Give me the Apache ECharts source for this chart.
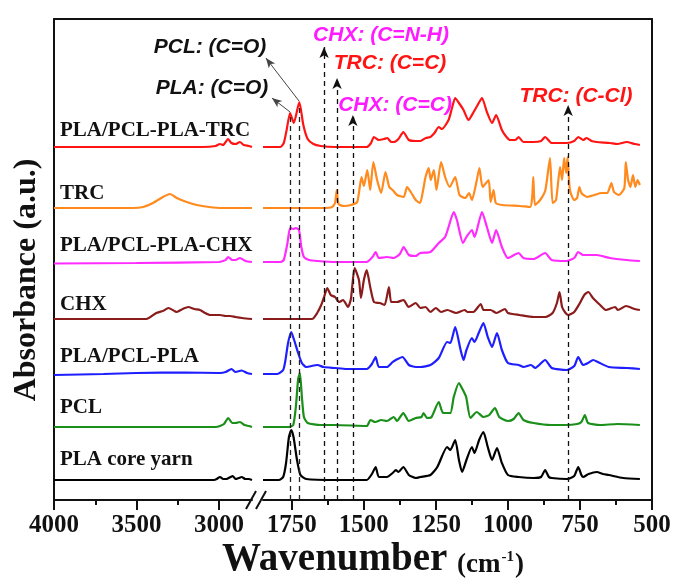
<!DOCTYPE html>
<html><head><meta charset="utf-8">
<script src="https://cdn.jsdelivr.net/npm/echarts@6/dist/echarts.min.js"></script>
<style>html,body{margin:0;padding:0;background:#fff}#c{width:674px;height:584px}</style>
</head><body><div id="c"></div>
<script>
// ---------------- DATA ----------------
const seriesNames = ['PLA/PCL-PLA-TRC', 'TRC', 'PLA/PCL-PLA-CHX', 'CHX', 'PLA/PCL-PLA', 'PCL', 'PLA core yarn'];
// vertical stacking offsets (arbitrary absorbance units)
const offsets = [353, 292, 238, 181, 126, 73, 20];

// left segment (4000-2800 cm-1): [wavenumber, relative absorbance]
const trcCompLeft = [[4000,0],[3100,0],[3020,1],[2995,3],[2975,2],[2945,8],[2925,4],[2900,3],[2873,5],[2850,2],[2820,1],[2800,0]];
const trcLeft = [[4000,0],[3520,0],[3460,1],[3400,5],[3340,11],[3297,14],[3256,10],[3196,6],[3135,3],[3060,1],[2980,0],[2800,0]];
const chxCompLeft = [[4000,-1.5],[3500,-1],[3000,0],[2975,1],[2960,2],[2944,5],[2920,2],[2900,2],[2873,4],[2840,1],[2800,0]];
const chxLeft = [[4000,0],[3440,0],[3380,6],[3340,8],[3307,11],[3270,8],[3256,7],[3220,10],[3186,12],[3150,10],[3115,9],[3085,6],[3055,4],[2994,4],[2960,3],[2933,3],[2900,2],[2860,1],[2800,0]];
const plaPclLeft = [[4000,-1],[3700,0],[3500,1],[3200,1.5],[3000,1],[2994,1],[2960,2],[2924,5],[2900,2],[2863,3.5],[2830,1],[2800,0]];
const pclLeft = [[4000,0],[3020,0],[2994,1],[2970,3],[2944,9],[2920,4],[2900,4],[2873,5],[2845,2],[2820,1],[2800,0]];
const plaLeft = [[4000,0],[3030,0],[3014,1],[2994,3],[2975,1],[2955,1],[2930,3],[2917,4],[2900,1],[2880,2],[2863,3],[2840,1],[2820,1],[2800,0]];

// right segment (1850-540 cm-1)
const trcCompRight = [[1850,0],[1790,0],[1778,4],[1768,17],[1756,34],[1743,24],[1724,45],[1710,22],[1695,8],[1675,3],[1650,1],[1600,0],[1490,0],[1475,4],[1465,10],[1448,7],[1430,8],[1419,9],[1405,5],[1396,5],[1380,8],[1363,15],[1344,7],[1320,6],[1304,6],[1285,9],[1269,10],[1255,14],[1240,20],[1229,18],[1206,27],[1195,38],[1183,49],[1170,44],[1154,37],[1137,27],[1119,35],[1105,42],[1090,49],[1073,35],[1055,24],[1041,32],[1021,17],[1005,10],[992,7],[975,7],[963,10],[946,5],[911,5],[885,6],[871,10],[848,4],[796,4],[770,6],[756,10],[739,7],[727,9],[710,6],[692,5],[646,4],[620,3],[588,5],[560,3],[542,2]];
const trcRight = [[1850,0],[1640,0],[1610,1],[1600,5],[1594,18],[1588,4],[1570,2],[1545,3],[1523,6],[1508,31],[1500,22],[1488,38],[1478,18],[1467,46],[1454,28],[1440,15],[1425,36],[1412,21],[1400,18],[1385,13],[1362,11],[1350,21],[1335,15],[1320,8],[1305,5],[1293,20],[1286,31],[1275,40],[1268,28],[1257,38],[1248,18],[1232,46],[1218,31],[1202,21],[1183,31],[1168,13],[1148,10],[1135,15],[1125,8],[1108,28],[1099,40],[1088,21],[1067,28],[1060,6],[1050,18],[1042,5],[1020,3],[958,2],[923,1],[916,10],[912,31],[906,3],[888,8],[870,18],[854,50],[845,5],[833,8],[819,41],[812,28],[805,50],[798,35],[793,51],[785,18],[770,8],[760,10],[752,21],[745,15],[725,11],[700,13],[675,15],[655,15],[641,25],[632,16],[615,13],[596,20],[591,46],[583,28],[575,21],[566,33],[558,21],[550,28],[542,23]];
const chxCompRight = [[1850,0],[1790,0],[1778,2],[1765,19],[1756,34],[1745,33],[1736,34],[1725,32],[1717,15],[1708,5],[1690,2],[1660,1],[1600,0],[1490,0],[1470,5],[1459,10],[1448,4],[1420,5],[1396,4],[1375,8],[1362,15],[1344,7],[1320,6],[1304,9],[1269,10],[1240,19],[1218,25],[1206,35],[1188,50],[1177,42],[1156,19],[1144,25],[1125,32],[1116,25],[1090,50],[1073,35],[1055,19],[1041,32],[1021,15],[1000,4],[963,9],[946,4],[911,3],[871,9],[848,2],[796,1],[770,4],[756,10],[739,7],[692,7],[646,4],[588,2],[542,1]];
const chxRight = [[1850,0],[1680,0],[1662,6],[1648,14],[1638,22],[1627,31],[1615,24],[1600,22],[1586,17],[1572,19],[1555,12],[1545,20],[1532,51],[1517,39],[1510,21],[1500,39],[1490,49],[1478,32],[1465,17],[1445,16],[1428,14],[1413,32],[1405,17],[1385,17],[1362,19],[1345,12],[1320,16],[1304,11],[1286,12],[1269,7],[1250,11],[1232,7],[1210,9],[1180,6],[1150,9],[1140,7],[1120,7],[1094,15],[1085,9],[1060,9],[1040,6],[1010,10],[1000,6],[960,4],[910,2],[870,2],[845,6],[830,16],[821,27],[812,12],[800,6],[790,4],[770,7],[750,16],[735,24],[721,27],[705,21],[680,14],[660,9],[628,12],[618,9],[590,13],[560,10],[542,9]];
const plaPclRight = [[1850,0],[1800,0],[1780,4],[1772,14],[1763,31],[1752,42],[1742,34],[1728,21],[1715,11],[1700,7],[1661,9],[1640,7],[1600,6],[1560,5],[1490,5],[1472,10],[1459,17],[1448,7],[1420,7],[1400,12],[1389,14],[1366,17],[1344,9],[1320,7],[1304,7],[1269,9],[1240,16],[1211,32],[1200,31],[1183,47],[1165,25],[1154,14],[1144,24],[1125,36],[1116,32],[1100,42],[1085,51],[1070,37],[1055,27],[1038,41],[1021,24],[1000,11],[963,9],[946,7],[920,9],[905,6],[871,14],[848,6],[796,4],[770,8],[756,17],[739,9],[722,11],[704,14],[688,12],[650,7],[588,6],[542,5]];
const pclRight = [[1850,0],[1760,0],[1745,2],[1736,20],[1728,48],[1722,54],[1715,30],[1708,10],[1695,4],[1650,2],[1600,2],[1490,1],[1477,7],[1460,5],[1440,7],[1420,6],[1396,10],[1385,6],[1363,14],[1344,6],[1320,9],[1300,10],[1293,14],[1280,9],[1265,10],[1240,25],[1225,14],[1200,14],[1188,30],[1170,44],[1158,38],[1145,30],[1130,9],[1108,15],[1085,10],[1065,12],[1045,19],[1030,10],[1000,6],[980,8],[963,14],[946,7],[911,4],[850,2],[800,2],[760,3],[745,5],[733,12],[722,4],[680,2],[620,3],[542,2]];
const plaRight = [[1850,0],[1795,0],[1780,3],[1770,17],[1760,43],[1752,50],[1744,43],[1732,20],[1720,5],[1700,1],[1600,0],[1490,0],[1472,6],[1459,13],[1448,3],[1420,3],[1400,7],[1389,10],[1380,8],[1363,13],[1344,5],[1320,2],[1304,3],[1269,5],[1245,13],[1211,33],[1200,30],[1183,40],[1170,20],[1159,8],[1144,20],[1125,33],[1116,27],[1100,40],[1085,48],[1070,33],[1055,20],[1038,32],[1021,17],[1000,5],[963,3],[911,2],[885,3],[871,10],[858,3],[848,2],[796,1],[770,4],[756,13],[745,5],[739,3],[720,6],[692,8],[670,6],[650,5],[600,2],[542,1]];

const leftSpectra = [trcCompLeft, trcLeft, chxCompLeft, chxLeft, plaPclLeft, pclLeft, plaLeft];
const rightSpectra = [trcCompRight, trcRight, chxCompRight, chxRight, plaPclRight, pclRight, plaRight];

// tick labels
const leftMajorTicks = [4000, 3500, 3000];
const leftMinorTicks = [3750, 3250];
const rightMajorTicks = [1750, 1500, 1250, 1000, 750, 500];
const rightMinorTicks = [1625, 1375, 1125, 875, 625];

// annotated bands
const carbonylPeaks = [1756, 1724];      // PLA, PCL C=O
const carbonylTops = [383, 394];
const arrowPeaks = [1638, 1593, 1538, 791]; // CHX C=N-H, TRC C=C, CHX C=C, TRC C-Cl
const arrowTops = [453, 422, 385, 395];
// leader arrows from peaks to labels: [fromW, fromA, toW, toA]
const leaderArrows = [[1725, 399, 1840, 442], [1756, 388, 1819, 402]];

const colors = ['#ff1414', '#ff8a1e', '#ff2bff', '#8b1c1c', '#1e1eff', '#1a8f1a', '#000000'];

// ---------------- CHART ----------------
const chart = echarts.init(document.getElementById('c'), null, {renderer: 'canvas'});
const serif = '"Liberation Serif","Times New Roman",serif';
const sans = '"Liberation Sans",Arial,sans-serif';
const axisCol = '#111';

function bottomAxis(grid, min, max, ticks, len, labels) {
  return {
    type: 'value', gridIndex: grid, position: 'bottom', min: min, max: max, inverse: true,
    axisLine: {show: labels, onZero: false, lineStyle: {color: axisCol, width: 2}},
    axisTick: {show: true, customValues: ticks, length: len, lineStyle: {color: axisCol, width: 2}},
    axisLabel: labels ? {show: true, customValues: ticks, formatter: v => String(v), fontFamily: serif, fontWeight: 'bold', fontSize: 25, color: axisCol, margin: 13} : {show: false},
    splitLine: {show: false}
  };
}

const series = [];
for (let i = 0; i < seriesNames.length; i++) {
  const off = offsets[i];
  series.push({
    name: seriesNames[i] + ' (high)', type: 'line', xAxisIndex: 0, yAxisIndex: 0,
    data: leftSpectra[i].map(p => [p[0], p[1] + off]),
    showSymbol: false, smooth: 0.2, silent: true,
    lineStyle: {color: colors[i], width: 2.2}, z: 3
  });
  series.push({
    name: seriesNames[i], type: 'line', xAxisIndex: 2, yAxisIndex: 1,
    data: rightSpectra[i].map(p => [p[0], p[1] + off]),
    showSymbol: false, smooth: 0.2, silent: true,
    lineStyle: {color: colors[i], width: 2.2}, z: 3
  });
}
// dashed reference lines (no arrow)
series.push({
  type: 'line', xAxisIndex: 2, yAxisIndex: 1, data: [], silent: true,
  markLine: {
    silent: true, animation: false, symbol: ['none', 'none'], label: {show: false},
    lineStyle: {type: [5, 4], color: '#222', width: 1.3},
    data: carbonylPeaks.map((w, k) => [{coord: [w, 0]}, {coord: [w, carbonylTops[k]]}])
  }
});
// dashed arrows
series.push({
  type: 'line', xAxisIndex: 2, yAxisIndex: 1, data: [], silent: true,
  markLine: {
    silent: true, animation: false, symbol: ['none', 'arrow'], symbolSize: [7, 11], label: {show: false},
    lineStyle: {type: [5, 4], color: '#111', width: 1.3},
    data: arrowPeaks.map((w, k) => [{coord: [w, 0]}, {coord: [w, arrowTops[k]]}])
  }
});
// leader arrows
series.push({
  type: 'line', xAxisIndex: 2, yAxisIndex: 1, data: [], silent: true,
  markLine: {
    silent: true, animation: false, symbol: ['none', 'arrow'], symbolSize: [6, 10], label: {show: false},
    lineStyle: {type: 'solid', color: '#444', width: 1},
    data: leaderArrows.map(a => [{coord: [a[0], a[1]]}, {coord: [a[2], a[3]]}])
  }
});

const labelPos = [[60, 131], [60, 194], [60, 246], [60, 305], [60, 357], [60, 408], [60, 460]];
const graphics = [];
seriesNames.forEach((n, i) => {
  graphics.push({type: 'text', x: labelPos[i][0], y: labelPos[i][1], silent: true,
    style: {text: n, font: 'bold 21px ' + serif, fill: '#111', align: 'left', verticalAlign: 'middle'}});
});
const annots = [
  ['PCL: (C=O)', 210, 47, '#111'],
  ['PLA: (C=O)', 212, 88, '#111'],
  ['CHX: (C=N-H)', 381, 35, '#ff1aff'],
  ['TRC: (C=C)', 390, 63, '#ff1414'],
  ['CHX: (C=C)', 395, 105, '#ff1aff'],
  ['TRC: (C-Cl)', 576, 96, '#ff1414']
];
annots.forEach(a => graphics.push({type: 'text', x: a[1], y: a[2], silent: true, z: 10,
  style: {text: a[0], font: 'italic bold 21px ' + sans, fill: a[3], align: 'center', verticalAlign: 'middle'}}));
// axis break marks
graphics.push({type: 'line', silent: true, shape: {x1: 246, y1: 509, x2: 256, y2: 491}, style: {stroke: '#111', lineWidth: 2}});
graphics.push({type: 'line', silent: true, shape: {x1: 256, y1: 509, x2: 266, y2: 491}, style: {stroke: '#111', lineWidth: 2}});
// axis titles
graphics.push({type: 'text', x: 27, y: 280, rotation: Math.PI / 2, silent: true,
  style: {text: 'Absorbance (a.u.)', font: 'bold 32px ' + serif, fill: '#111', align: 'center', verticalAlign: 'middle'}});
graphics.push({type: 'text', x: 373, y: 560, silent: true,
  style: {text: '{a|Wavenumber }{b|(cm}{c|-1}{b|)}', align: 'center', verticalAlign: 'middle',
    rich: {
      a: {fontFamily: serif, fontWeight: 'bold', fontSize: 39, fill: '#111', color: '#111'},
      b: {fontFamily: serif, fontWeight: 'bold', fontSize: 27, fill: '#111', color: '#111', padding: [10, 0, 0, 0]},
      c: {fontFamily: serif, fontWeight: 'bold', fontSize: 15, fill: '#111', color: '#111', padding: [0, 1, 6, 1]}
    }}});

const frameAxis = {axisLine: {show: true, onZero: false, lineStyle: {color: axisCol, width: 2}}, axisTick: {show: false}, axisLabel: {show: false}, splitLine: {show: false}};

chart.setOption({
  animation: false,
  backgroundColor: '#fff',
  grid: [
    {left: 54, top: 19, width: 198, height: 481},
    {left: 263, top: 19, width: 389, height: 481},
    {left: 54, top: 19, width: 598, height: 481}
  ],
  xAxis: [
    bottomAxis(0, 2800, 4000, leftMajorTicks, 10, true),
    bottomAxis(0, 2800, 4000, leftMinorTicks, 5, false),
    bottomAxis(1, 500, 1850, rightMajorTicks, 10, true),
    bottomAxis(1, 500, 1850, rightMinorTicks, 5, false),
    Object.assign({type: 'value', gridIndex: 2, position: 'top', min: 0, max: 1}, frameAxis)
  ],
  yAxis: [
    {type: 'value', gridIndex: 0, min: 0, max: 481, show: false},
    {type: 'value', gridIndex: 1, min: 0, max: 481, show: false},
    Object.assign({type: 'value', gridIndex: 2, position: 'left', min: 0, max: 1}, frameAxis),
    Object.assign({type: 'value', gridIndex: 2, position: 'right', min: 0, max: 1}, frameAxis)
  ],
  series: series,
  graphic: graphics
});
</script></body></html>
